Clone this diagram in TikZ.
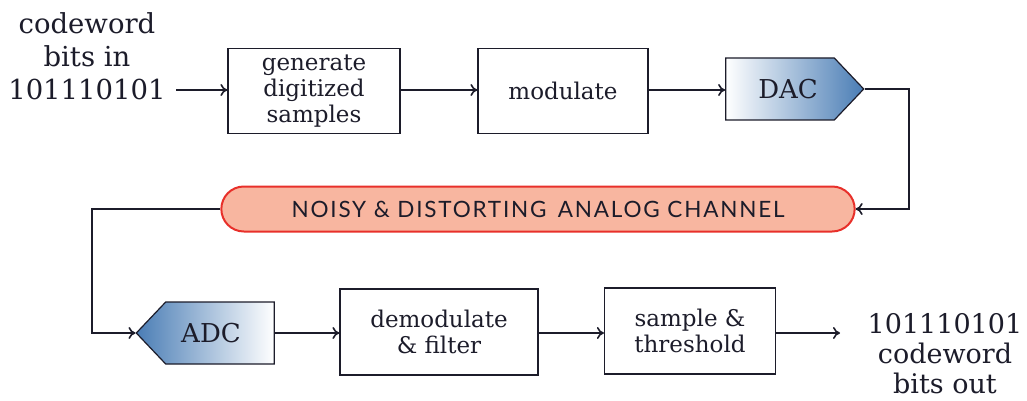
\documentclass[tikz,border=0pt]{standalone}
\usepackage{fontspec}
\setmainfont{DejaVu Serif}
\newfontfamily\chanfont{Lato}[LetterSpace=8]
\usetikzlibrary{shapes.symbols,shapes.misc,arrows.meta}
\definecolor{ink}{HTML}{1C1C2A}
\definecolor{convblue}{HTML}{4A7DB5}
\definecolor{chanfill}{HTML}{F8B6A0}
\definecolor{chanedge}{HTML}{E8302A}
\tikzset{
  procbox/.style={draw=ink, line width=1.2pt, fill=white, minimum width=172pt,
    minimum height=85pt, align=center, text=ink, font=\fontsize{23}{26}\selectfont},
  converter/.style={signal, draw=ink, line width=1.2pt, minimum width=138pt,
    minimum height=62pt, signal pointer angle=93, text=ink,
    font=\fontsize{26}{30}\selectfont},
  ioText/.style={align=center, text=ink, inner sep=0pt, font=\fontsize{27.5}{33}\selectfont},
  flow/.style={draw=ink, line width=1.6pt, -{To[length=7pt,width=12pt]}},
}
\begin{document}
\begin{tikzpicture}[x=1pt, y=-1pt]
  \useasboundingbox (0,0) rectangle (1027,401);
  % transmitter chain
  \node[ioText] (bitsin) at (87,56) {codeword\\bits in\\101110101};
  \coordinate (inend) at (176,90);
  \node[procbox] (gen) at (314,91) {generate\\digitized\\samples};
  \node[procbox, minimum width=170pt] (mod) at (563,91) {modulate};
  \node[converter, signal to=east, left color=white, right color=convblue] (dac) at (780,89) {\hspace*{16pt}DAC};
  % channel
  \node[rounded rectangle, draw=chanedge, fill=chanfill, line width=2pt,
        minimum width=640pt, minimum height=45pt, text=ink,
        font=\chanfont\fontsize{22.5}{26}\selectfont] (chan) at (538,209)
        {NOISY \& DISTORTING\, ANALOG CHANNEL};
  % receiver chain
  \node[converter, signal to=west, left color=convblue, right color=white] (adc) at (220,333) {ADC\hspace*{18pt}};
  \node[procbox, minimum width=198pt, minimum height=86pt] (demod) at (439,332) {demodulate\\\& filter};
  \node[procbox, minimum width=171pt, minimum height=86pt] (thr) at (690,331) {sample \&\\threshold};
  \node[ioText, font=\fontsize{27}{30}\selectfont] (bitsout) at (945,354) {101110101\\codeword\\bits out};
  \coordinate (outend) at (840,333);
  % connectors
  \draw[flow] (inend) -- (gen.west |- inend);
  \draw[flow] (gen.east |- inend) -- (mod.west |- inend);
  \draw[flow] (mod.east |- inend) -- (dac.west |- inend);
  \draw[flow] (dac.east) -| (909,150) |- (chan.east);
  \draw[flow] (chan.west) -| (92,270) |- (adc.west);
  \draw[flow] (adc.east |- outend) -- (demod.west |- outend);
  \draw[flow] (demod.east |- outend) -- (thr.west |- outend);
  \draw[flow] (thr.east |- outend) -- (outend);
\end{tikzpicture}
\end{document}
